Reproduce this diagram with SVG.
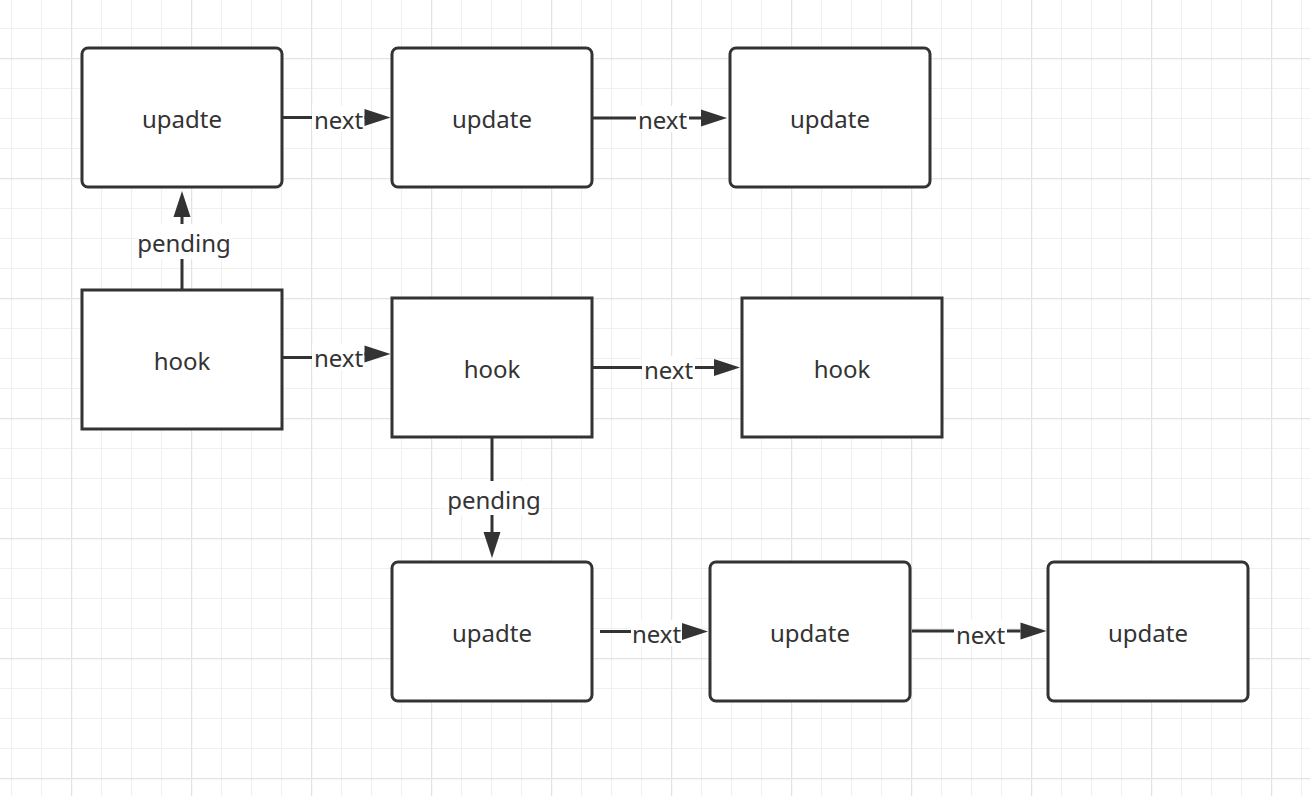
<svg xmlns="http://www.w3.org/2000/svg" width="1310" height="796" viewBox="0 0 1310 796">
  <defs>
    <pattern id="gridMinor" patternUnits="userSpaceOnUse" x="11" y="28" width="30" height="30">
      <path d="M0.5 0 V30 M0 0.5 H30" fill="none" stroke="#f0f0f0" stroke-width="1.2"/>
    </pattern>
    <pattern id="gridMajor" patternUnits="userSpaceOnUse" x="71" y="58" width="120" height="120">
      <path d="M0.5 0 V120 M0 0.5 H120" fill="none" stroke="#e3e3e3" stroke-width="1.4"/>
    </pattern>
    <marker id="arrow" markerUnits="userSpaceOnUse" markerWidth="27" markerHeight="17" refX="0" refY="8.5" orient="auto" overflow="visible">
      <path d="M0 0 L26 8.5 L0 17 Z" fill="#333333"/>
    </marker>
  </defs>
  <style>
    .node rect { fill: #ffffff; stroke: #333333; stroke-width: 3; }
    .node text { font-family: "Noto Sans", "Liberation Sans", sans-serif; font-size: 24px; fill: #333333; text-anchor: middle; }
    .edge { fill: none; stroke: #333333; stroke-width: 3; marker-end: url(#arrow); }
    .lblbg { fill: #ffffff; }
    .lbl { font-family: "Noto Sans", "Liberation Sans", sans-serif; font-size: 24px; fill: #333333; text-anchor: middle; }
  </style>

  <rect width="1310" height="796" fill="#ffffff"/>
  <rect width="1310" height="796" fill="url(#gridMinor)"/>
  <rect width="1310" height="796" fill="url(#gridMajor)"/>

  <g id="connectors">
    <path class="edge" d="M283 117.5 H364.5"/>
    <path class="edge" d="M593 118 H701"/>
    <path class="edge" d="M182 290 V217"/>
    <path class="edge" d="M283 357.5 H338 V354 H364.5"/>
    <path class="edge" d="M593 367.5 H714"/>
    <path class="edge" d="M492 438 V532"/>
    <path class="edge" d="M600 631.5 H682"/>
    <path class="edge" d="M912 631 H1020.5"/>

    <rect class="lblbg" x="312" y="106" width="52" height="26"/>
    <text class="lbl" x="338.5" y="128.5">next</text>
    <rect class="lblbg" x="636" y="106" width="53" height="26"/>
    <text class="lbl" x="662.5" y="129">next</text>
    <rect class="lblbg" x="136" y="224" width="96" height="35"/>
    <text class="lbl" x="184" y="251.5">pending</text>
    <rect class="lblbg" x="312" y="344" width="52" height="26"/>
    <text class="lbl" x="338.5" y="367">next</text>
    <rect class="lblbg" x="642" y="356" width="53" height="26"/>
    <text class="lbl" x="668.5" y="379">next</text>
    <rect class="lblbg" x="446" y="481" width="96" height="34"/>
    <text class="lbl" x="494" y="509">pending</text>
    <rect class="lblbg" x="631" y="620" width="51" height="26"/>
    <text class="lbl" x="656.5" y="643">next</text>
    <rect class="lblbg" x="954" y="620" width="53" height="26"/>
    <text class="lbl" x="980.5" y="644">next</text>
  </g>

  <g id="node-upadte-top" class="node">
    <rect x="82" y="48" width="200" height="139" rx="6"/>
    <text x="182" y="127.5">upadte</text>
  </g>
  <g id="node-update-top-2" class="node">
    <rect x="392" y="48" width="200" height="139" rx="6"/>
    <text x="492" y="127.5">update</text>
  </g>
  <g id="node-update-top-3" class="node">
    <rect x="730" y="48" width="200" height="139" rx="6"/>
    <text x="830" y="127.5">update</text>
  </g>
  <g id="node-hook-1" class="node">
    <rect x="82" y="290" width="200" height="139"/>
    <text x="182" y="369.5">hook</text>
  </g>
  <g id="node-hook-2" class="node">
    <rect x="392" y="298" width="200" height="139"/>
    <text x="492" y="377.5">hook</text>
  </g>
  <g id="node-hook-3" class="node">
    <rect x="742" y="298" width="200" height="139"/>
    <text x="842" y="377.5">hook</text>
  </g>
  <g id="node-upadte-bottom" class="node">
    <rect x="392" y="562" width="200" height="139" rx="6"/>
    <text x="492" y="641.5">upadte</text>
  </g>
  <g id="node-update-bottom-2" class="node">
    <rect x="710" y="562" width="200" height="139" rx="6"/>
    <text x="810" y="641.5">update</text>
  </g>
  <g id="node-update-bottom-3" class="node">
    <rect x="1048" y="562" width="200" height="139" rx="6"/>
    <text x="1148" y="641.5">update</text>
  </g>
</svg>
